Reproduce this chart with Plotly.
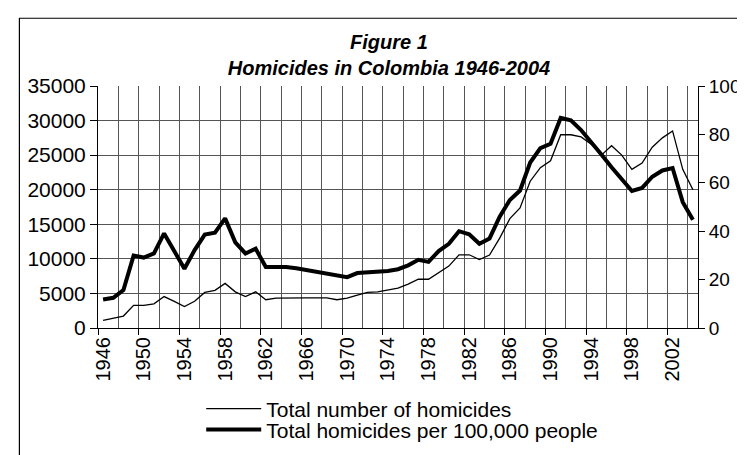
import plotly.graph_objects as go

years = list(range(1946, 2005))
total_homicides = [1100, 1450, 1730, 3270, 3270, 3500, 4550, 3860, 3090, 3860,
                   5140, 5450, 6450, 5230, 4550, 5230, 4090, 4320, 4360, 4360,
                   4360, 4360, 4360, 4090, 4320, 4770, 5140, 5230, 5450, 5770,
                   6360, 7050, 7050, 7950, 8950, 10590, 10590, 9900, 10550, 13000,
                   15820, 17360, 21230, 23180, 24180, 27950, 27950, 27640, 26590, 25000,
                   26360, 25000, 22950, 23860, 26140, 27500, 28500, 22950, 20000]
rate_per_100k = [11.8, 12.5, 15.7, 29.9, 29.1, 30.8, 39.1, 31.5, 24.5, 32.2,
                 38.6, 39.4, 45.3, 35.4, 30.8, 32.8, 25.2, 25.2, 25.2, 24.7,
                 23.9, 23.0, 22.3, 21.4, 21.0, 22.7, 23.0, 23.0, 23.6, 24.3,
                 25.9, 28.2, 27.3, 31.8, 34.8, 40.0, 38.7, 34.8, 37.0, 46.0,
                 52.9, 56.8, 68.4, 74.3, 76.1, 86.8, 85.8, 81.8, 77.0, 71.7,
                 66.4, 61.8, 56.6, 57.9, 62.5, 65.1, 66.1, 52.0, 44.7]
label_years = list(range(1946, 2003, 4))
left_ticks = list(range(0, 35001, 5000))
right_ticks = list(range(0, 101, 20))

boundaries = [y - 0.5 for y in years] + [years[-1] + 0.5]
grid_bounds = boundaries[::2]
tick_bounds = boundaries[::4]

FONT = "Liberation Sans, Arial, sans-serif"
GRID = "#555555"

fig = go.Figure()
fig.add_trace(go.Scatter(x=years, y=total_homicides, mode="lines",
                         name="Total number of homicides", legend="legend",
                         line=dict(color="black", width=1.3)))
fig.add_trace(go.Scatter(x=years, y=rate_per_100k, mode="lines",
                         name="Total homicides per 100,000 people", yaxis="y2",
                         legend="legend2",
                         line=dict(color="black", width=4)))
fig.add_trace(go.Scatter(x=[years[0]], y=[0], xaxis="x2", mode="markers",
                         marker=dict(opacity=0), showlegend=False, hoverinfo="skip"))

xr = [years[0] - 0.5, years[-1] + 0.5]
leg_common = dict(x=0.172, xanchor="left", yanchor="middle",
                  bgcolor="rgba(0,0,0,0)", font=dict(size=21, family=FONT),
                  itemwidth=55, borderwidth=0)
fig.update_layout(
    width=745, height=455,
    margin=dict(l=90, r=45, t=78, b=123),
    paper_bgcolor="white", plot_bgcolor="white",
    font=dict(family=FONT, color="black", size=20),
    title=dict(text="<b><i>Figure 1</i></b><br><b><i>Homicides in Colombia 1946-2004</i></b>",
               x=381 / 745, xanchor="center", xref="container",
               y=1 - 41 / 455, yanchor="middle", yref="container",
               font=dict(family=FONT, size=20)),
    xaxis=dict(range=xr, tickmode="array", tickvals=label_years,
               ticktext=[str(v) for v in label_years], tickangle=-90,
               ticks="", showgrid=False, showline=True, linecolor="black",
               linewidth=1, zeroline=False, tickfont=dict(size=20),
               minor=dict(tickvals=grid_bounds, showgrid=True, gridcolor=GRID,
                          gridwidth=1, ticks="")),
    xaxis2=dict(range=xr, overlaying="x", anchor="y", tickmode="array",
                tickvals=tick_bounds, ticks="outside", ticklen=6, tickcolor="black",
                showticklabels=False, showgrid=False, showline=False, zeroline=False),
    yaxis=dict(range=[0, 35000], tickmode="array", tickvals=left_ticks,
               ticktext=[str(v) for v in left_ticks],
               ticks="outside", ticklen=7, tickcolor="black",
               showgrid=True, gridcolor=GRID, gridwidth=1,
               showline=True, linecolor="black", linewidth=1, zeroline=False,
               tickfont=dict(size=21)),
    yaxis2=dict(range=[0, 100], overlaying="y", side="right", tickmode="array",
                tickvals=right_ticks, ticktext=[str(v) for v in right_ticks],
                ticks="outside", ticklen=6, tickcolor="black",
                showgrid=False, showline=True, linecolor="black", linewidth=1,
                zeroline=False, tickfont=dict(size=19)),
    legend=dict(y=(332 - 417) / 254, **leg_common),
    legend2=dict(y=(332 - 439) / 254, **leg_common),
    showlegend=True,
    shapes=[dict(type="rect", xref="paper", yref="paper",
                 x0=-0.131, x1=1.2, y0=-0.6, y1=1.28,
                 line=dict(color="black", width=1.2), fillcolor="rgba(0,0,0,0)",
                 layer="below")],
)

fig.write_html("out.html")
